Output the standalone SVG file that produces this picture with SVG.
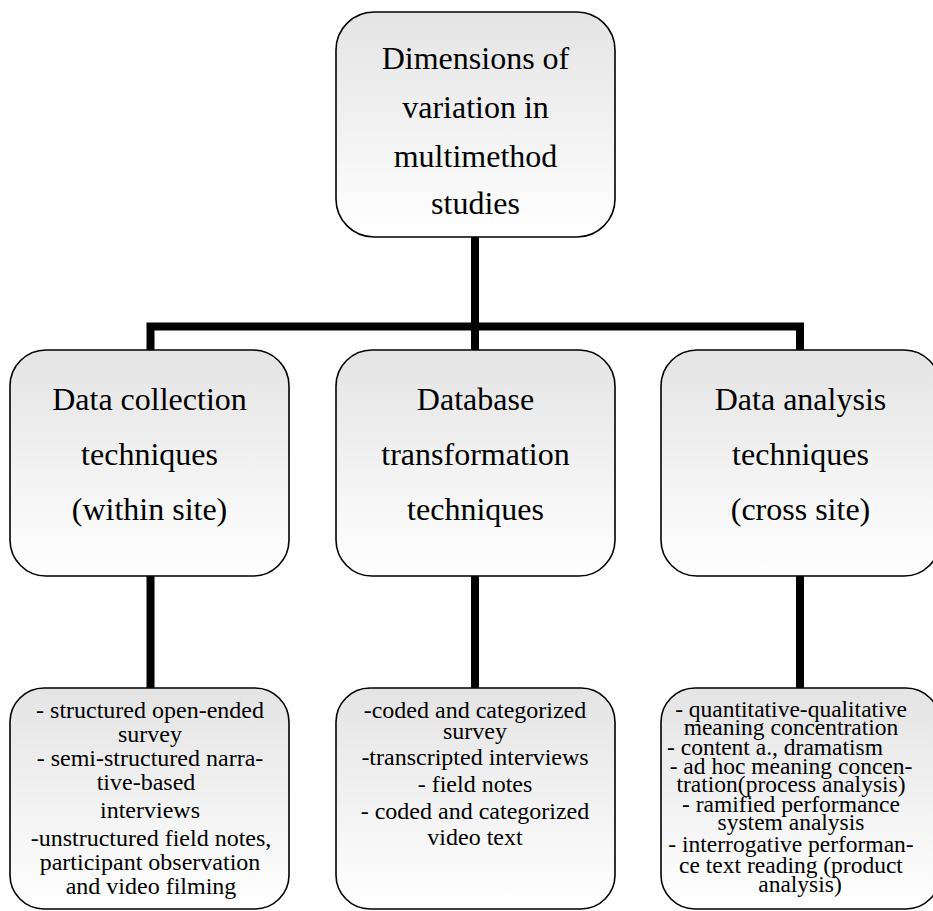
<svg xmlns="http://www.w3.org/2000/svg" width="933" height="911" viewBox="0 0 933 911">
  <style>
    .box { fill: url(#boxFill); stroke: #000; stroke-width: 1.6; }
    .wire { fill: none; stroke: #000; stroke-width: 8; stroke-linecap: butt; stroke-linejoin: miter; }
    .big { font-family: "Liberation Serif", "Times New Roman", serif; font-size: 32px; fill: #000; text-anchor: middle; }
    .small { font-family: "Liberation Serif", "Times New Roman", serif; font-size: 24px; fill: #000; text-anchor: middle; }
    .tight { font-family: "Liberation Serif", "Times New Roman", serif; font-size: 23.5px; fill: #000; text-anchor: middle; }
  </style>
  <defs>
    <linearGradient id="boxFill" x1="0" y1="0" x2="0" y2="1">
      <stop offset="0" stop-color="#e4e4e4"/>
      <stop offset="1" stop-color="#ffffff"/>
    </linearGradient>
  </defs>
  <rect width="933" height="911" fill="#fff"/>

  <!-- connectors -->
  <g id="connectors">
    <path class="wire" d="M475,237 V350"/>
    <path class="wire" d="M150.5,350 V326.5 H800 V350"/>
    <path class="wire" d="M150.5,576 V688"/>
    <path class="wire" d="M475,576 V688"/>
    <path class="wire" d="M800,576 V688"/>
  </g>

  <!-- root -->
  <g id="root">
    <rect class="box" x="336" y="12" width="279" height="225" rx="38" ry="38"/>
    <text class="big" x="475.5" y="69">Dimensions of</text>
    <text class="big" x="475.5" y="118">variation in</text>
    <text class="big" x="475.5" y="167">multimethod</text>
    <text class="big" x="475.5" y="214">studies</text>
  </g>

  <!-- second tier -->
  <g id="collection">
    <rect class="box" x="10" y="350" width="279" height="226" rx="36" ry="36"/>
    <text class="big" x="149.5" y="410">Data collection</text>
    <text class="big" x="149.5" y="465">techniques</text>
    <text class="big" x="149.5" y="520">(within site)</text>
  </g>
  <g id="transformation">
    <rect class="box" x="336" y="350" width="279" height="226" rx="36" ry="36"/>
    <text class="big" x="475.5" y="410">Database</text>
    <text class="big" x="475.5" y="465">transformation</text>
    <text class="big" x="475.5" y="520">techniques</text>
  </g>
  <g id="analysis">
    <rect class="box" x="661" y="350" width="279" height="226" rx="36" ry="36"/>
    <text class="big" x="800.5" y="410">Data analysis</text>
    <text class="big" x="800.5" y="465">techniques</text>
    <text class="big" x="800.5" y="520">(cross site)</text>
  </g>

  <!-- third tier -->
  <g id="collection-detail">
    <rect class="box" x="10" y="688" width="279" height="221" rx="34" ry="34"/>
    <text class="small" x="150" y="718">- structured open-ended</text>
    <text class="small" x="150" y="742">survey</text>
    <text class="small" x="150" y="766">- semi-structured narra-</text>
    <text class="small" x="146" y="790">tive-based</text>
    <text class="small" x="150" y="818">interviews</text>
    <text class="small" x="151" y="846">-unstructured field notes,</text>
    <text class="small" x="150" y="870">participant observation</text>
    <text class="small" x="151" y="894">and video filming</text>
  </g>
  <g id="transformation-detail">
    <rect class="box" x="336" y="688" width="279" height="221" rx="34" ry="34"/>
    <text class="small" x="475" y="718">-coded and categorized</text>
    <text class="small" x="475" y="739">survey</text>
    <text class="small" x="475" y="765">-transcripted interviews</text>
    <text class="small" x="475" y="792">- field notes</text>
    <text class="small" x="475" y="819">- coded and categorized</text>
    <text class="small" x="475" y="845">video text</text>
  </g>
  <g id="analysis-detail">
    <rect class="box" x="661" y="688" width="279" height="221" rx="34" ry="34"/>
    <text class="tight" x="791" y="717">- quantitative-qualitative</text>
    <text class="tight" x="791" y="735">meaning concentration</text>
    <text class="tight" x="775" y="755">- content a., dramatism</text>
    <text class="tight" x="791" y="774">- ad hoc meaning concen-</text>
    <text class="tight" x="791" y="792">tration(process analysis)</text>
    <text class="tight" x="791" y="812">- ramified performance</text>
    <text class="tight" x="791" y="830">system analysis</text>
    <text class="tight" x="791" y="852">- interrogative performan-</text>
    <text class="tight" x="791" y="873">ce text reading (product</text>
    <text class="tight" x="800" y="892">analysis)</text>
  </g>
</svg>
